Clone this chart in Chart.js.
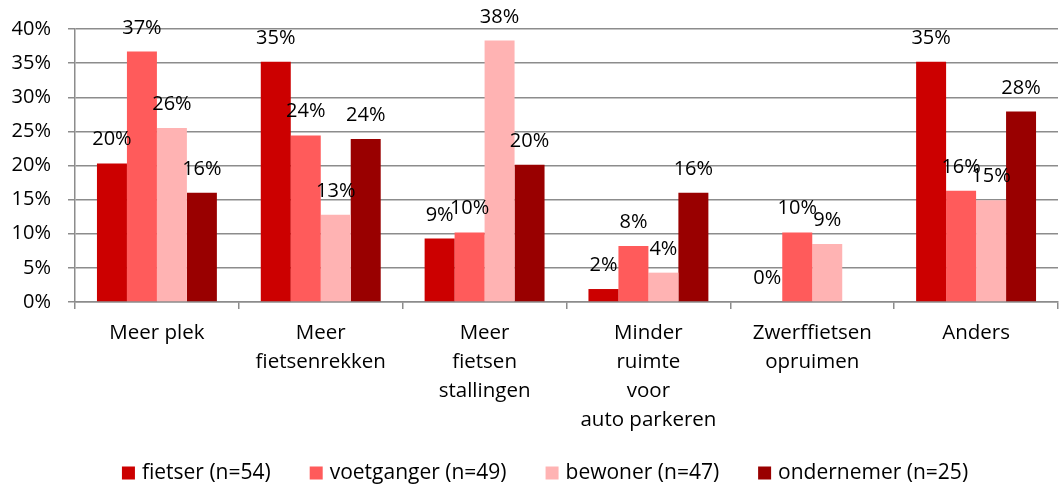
<!DOCTYPE html>
<html>
<head>
    <title>Wensen fietsparkeren</title>
    <script src="https://cdn.jsdelivr.net/npm/chart.js"></script>
    <style>
        body { margin: 0; background: #fff; }
    </style>
</head>
<body>
<canvas id="wensChart" width="1060" height="488"></canvas>
<script>
    // categorieen (meerdere regels per label)
    const categories = [
        ['Meer plek'],
        ['Meer', 'fietsenrekken'],
        ['Meer', 'fietsen', 'stallingen'],
        ['Minder', 'ruimte', 'voor', 'auto parkeren'],
        ['Zwerffietsen', 'opruimen'],
        ['Anders']
    ];
    const seriesNames = ['fietser (n=54)', 'voetganger (n=49)', 'bewoner (n=47)', 'ondernemer (n=25)'];
    const fietser    = [20.3, 35.2, 9.3, 1.9, 0, 35.2];
    const voetganger = [36.7, 24.4, 10.2, 8.2, 10.2, 16.3];
    const bewoner    = [25.5, 12.8, 38.3, 4.3, 8.5, 14.9];
    const ondernemer = [16.0, 23.9, 20.1, 16.0, null, 27.9];
    const yTicks = [0, 5, 10, 15, 20, 25, 30, 35, 40];

    const colors = ['#cc0000', '#ff5b5b', '#ffb3b3', '#990000'];
    const fontFamily = '"Open Sans", "Liberation Sans", sans-serif';
    const gridColor = '#8c8c8c';

    // percentages boven de staven
    const valueLabels = {
        id: 'valueLabels',
        afterDatasetsDraw(chart) {
            const ctx = chart.ctx;
            ctx.save();
            ctx.font = '20px ' + fontFamily;
            ctx.fillStyle = '#000';
            ctx.textAlign = 'center';
            ctx.textBaseline = 'alphabetic';
            chart.data.datasets.forEach((ds, i) => {
                const meta = chart.getDatasetMeta(i);
                meta.data.forEach((bar, j) => {
                    const v = ds.data[j];
                    if (v === null || v === undefined) return;
                    ctx.fillText(Math.round(v) + '%', bar.x, bar.y - 18);
                });
            });
            ctx.restore();
        }
    };

    // eigen legenda onderaan
    const bottomLegend = {
        id: 'bottomLegend',
        afterDraw(chart) {
            const ctx = chart.ctx;
            ctx.save();
            ctx.font = '21px ' + fontFamily;
            ctx.textBaseline = 'middle';
            ctx.textAlign = 'left';
            const box = 13, gap = 7, spacing = 39;
            const items = chart.data.datasets.map(ds => ({
                text: ds.label, color: ds.backgroundColor,
                w: box + gap + ctx.measureText(ds.label).width
            }));
            const total = items.reduce((s, it) => s + it.w, 0) + spacing * (items.length - 1);
            let x = 545 - total / 2;
            const y = 473;
            items.forEach(it => {
                ctx.fillStyle = it.color;
                ctx.fillRect(x, y - box / 2, box, box);
                ctx.fillStyle = '#000';
                ctx.fillText(it.text, x + box + gap, y);
                x += it.w + spacing;
            });
            ctx.restore();
        }
    };

    const seriesData = [fietser, voetganger, bewoner, ondernemer];

    new Chart(document.getElementById('wensChart').getContext('2d'), {
        type: 'bar',
        data: {
            labels: categories,
            datasets: seriesNames.map((name, i) => ({
                label: name,
                data: seriesData[i],
                backgroundColor: colors[i],
                borderWidth: 0,
                categoryPercentage: 0.732,
                barPercentage: 1.0
            }))
        },
        options: {
            responsive: false,
            animation: false,
            devicePixelRatio: 1,
            layout: { padding: { top: 25, right: 2, bottom: 0, left: 0 } },
            plugins: {
                legend: { display: false },
                tooltip: { enabled: false }
            },
            scales: {
                x: {
                    grid: {
                        offset: true,
                        drawOnChartArea: false,
                        color: gridColor,
                        lineWidth: 1.5,
                        tickLength: 7
                    },
                    border: { color: gridColor, width: 1.5 },
                    ticks: {
                        color: '#000',
                        padding: 10,
                        maxRotation: 0,
                        autoSkip: false,
                        font: { family: fontFamily, size: 20.5, lineHeight: '29px' }
                    },
                    afterFit(scale) { scale.height = 186; }
                },
                y: {
                    min: 0,
                    max: 40,
                    afterBuildTicks(scale) { scale.ticks = yTicks.map(v => ({ value: v })); },
                    grid: {
                        color: gridColor,
                        lineWidth: 1.5,
                        tickLength: 7
                    },
                    border: { color: gridColor, width: 1.5 },
                    ticks: {
                        color: '#000',
                        padding: 17,
                        font: { family: fontFamily, size: 20 },
                        callback: v => v + '%'
                    },
                    afterFit(scale) { scale.width = 75; }
                }
            }
        },
        plugins: [valueLabels, bottomLegend]
    });
</script>
</body>
</html>
